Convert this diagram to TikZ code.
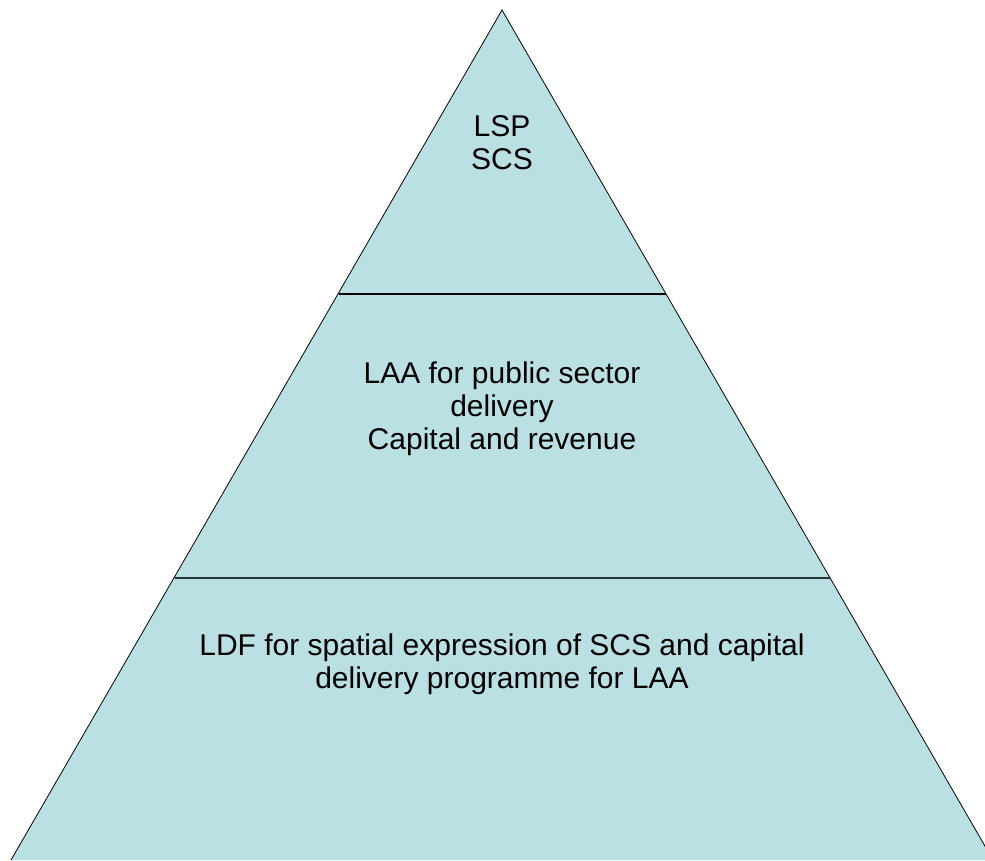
\documentclass[tikz,border=0pt]{standalone}
\usepackage{fontspec}
\setmainfont{Liberation Sans}
\definecolor{pyrfill}{RGB}{187,224,227}
\definecolor{pyrline}{RGB}{40,52,56}
\begin{document}
\begin{tikzpicture}[x=1pt,y=-1pt,
  tier/.style={align=center,font=\fontsize{30}{33}\selectfont,inner sep=0pt}]
\useasboundingbox (0,0) rectangle (985,860);
\clip (0,0) rectangle (985,860);
\coordinate (apex) at (502,10);
\coordinate (bl) at (11,860);
\coordinate (br) at (993,860);
\fill[pyrfill] (apex) -- (bl) -- (br) -- cycle;
\draw[line width=1.4pt] (339,294) -- (666,294);
\draw[pyrline,line width=2pt] (175,578) -- (830,578);
\draw[line width=0.8pt] (bl) -- (apex) -- (br);

\node[tier] (top) at (502,143) {LSP\\SCS};
\node[tier] (mid) at (502,409) {LAA for public sector\\delivery\\Capital and revenue};
\node[tier] (bot) at (502,664) {LDF for spatial expression of SCS and capital\\delivery programme for LAA};
\end{tikzpicture}
\end{document}
